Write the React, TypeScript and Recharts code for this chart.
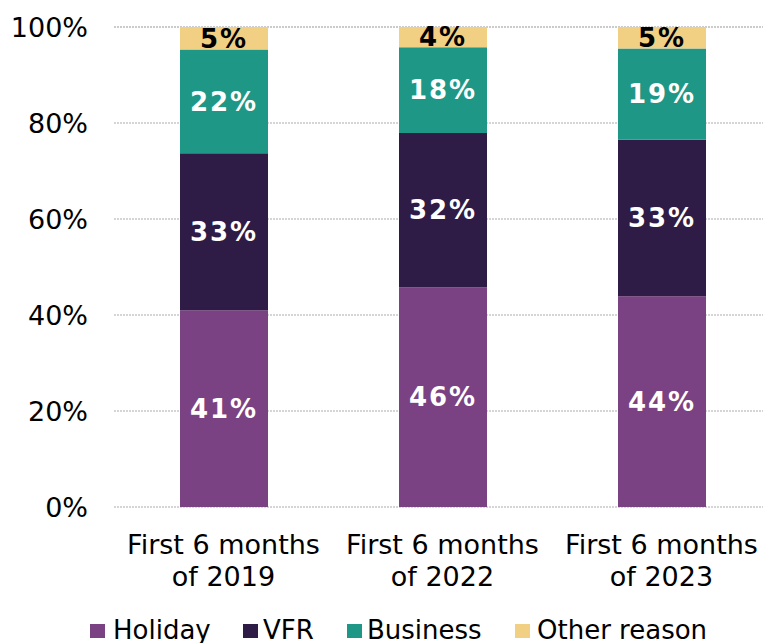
import React from "react";
import { BarChart, Bar, XAxis, YAxis, CartesianGrid, Legend, LabelList } from "recharts";

const categories = ["First 6 months|of 2019", "First 6 months|of 2022", "First 6 months|of 2023"];
const holiday = [41.0, 45.8, 43.9];
const vfr = [32.7, 32.1, 32.6];
const business = [21.6, 17.9, 19.0];
const other = [4.7, 4.2, 4.5];
const yTicks = [0, 20, 40, 60, 80, 100];

const series = [
  { key: "holiday", name: "Holiday", color: "#7A4282", labelColor: "#ffffff" },
  { key: "vfr", name: "VFR", color: "#2E1B46", labelColor: "#ffffff" },
  { key: "business", name: "Business", color: "#1F9786", labelColor: "#ffffff" },
  { key: "other", name: "Other reason", color: "#F1D084", labelColor: "#000000" },
];

const data = categories.map((c, i) => ({
  cat: c,
  holiday: holiday[i],
  vfr: vfr[i],
  business: business[i],
  other: other[i],
}));

const FONT = "'DejaVu Sans', Verdana, sans-serif";

const XTick = (props: any) => {
  const { x, y, payload } = props;
  const lines = String(payload.value).split("|");
  return (
    <g>
      {lines.map((l, i) => (
        <text key={i} x={x} y={y + 45 + i * 32} textAnchor="middle" fontSize={27} fontFamily={FONT} fill="#000">
          {l}
        </text>
      ))}
    </g>
  );
};

const LegendContent = () => (
  <div style={{ position: "relative", height: 36, width: 763, fontFamily: FONT, fontSize: 26, color: "#000" }}>
    {[
      { s: series[0], sq: 90, tx: 113 },
      { s: series[1], sq: 243, tx: 263 },
      { s: series[2], sq: 347, tx: 367 },
      { s: series[3], sq: 515, tx: 537 },
    ].map(({ s, sq, tx }) => (
      <React.Fragment key={s.key}>
        <div style={{ position: "absolute", left: sq, top: 17, width: 15, height: 14, background: s.color }} />
        <div style={{ position: "absolute", left: tx, top: 8, lineHeight: "30px", whiteSpace: "nowrap" }}>{s.name}</div>
      </React.Fragment>
    ))}
  </div>
);

export default function App() {
  return (
    <div style={{ position: "absolute", left: 0, top: 0, width: 763, height: 643, overflow: "hidden", background: "#fff" }}>
      <BarChart width={771} height={643} data={data} margin={{ top: 27, right: 0, bottom: 0, left: 0 }}>
        <CartesianGrid horizontal vertical={false} stroke="#c8c8c8" strokeDasharray="2 1" strokeWidth={1.5} />
        <XAxis dataKey="cat" axisLine={false} tickLine={false} tickSize={0} height={100} tick={<XTick />} interval={0} />
        <YAxis
          width={114}
          domain={[0, 100]}
          ticks={yTicks}
          axisLine={false}
          tickLine={false}
          tickSize={0}
          tickMargin={26}
          tickFormatter={(v: number) => `${v}%`}
          tick={{ fontSize: 27, fontFamily: FONT, fill: "#000" }}
        />
        <Legend verticalAlign="bottom" content={<LegendContent />} wrapperStyle={{ left: 0, width: 763, height: 36 }} />
        {series.map((s) => (
          <Bar key={s.key} dataKey={s.key} name={s.name} stackId="a" fill={s.color} barSize={88} isAnimationActive={false}>
            <LabelList
              dataKey={s.key}
              position="center"
              formatter={(v: number) => `${Math.round(v)}%`}
              fill={s.labelColor}
              fontSize={26}
              fontWeight="bold"
              fontFamily={FONT}
              letterSpacing={2}
            />
          </Bar>
        ))}
      </BarChart>
    </div>
  );
}
